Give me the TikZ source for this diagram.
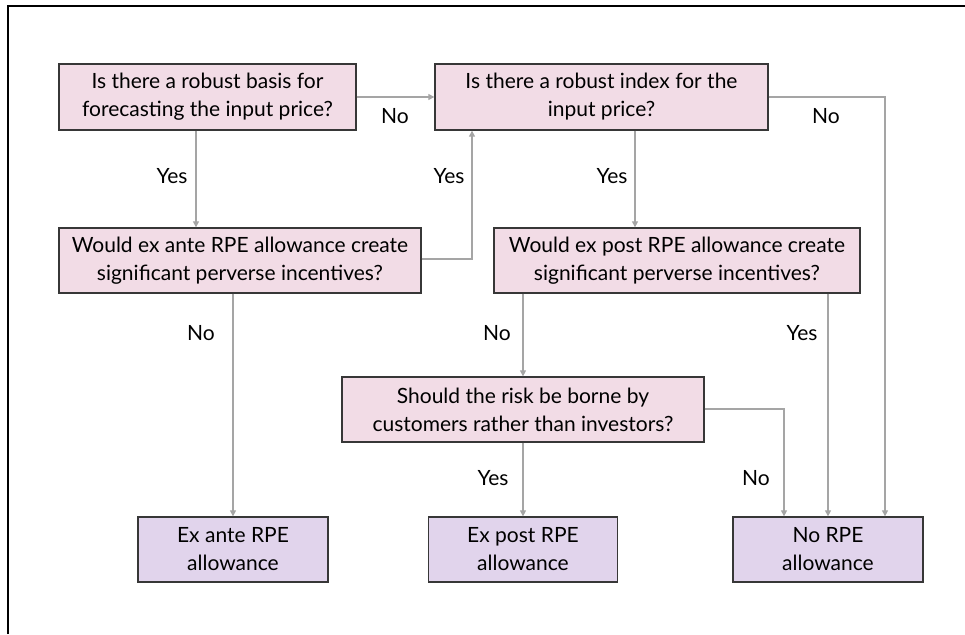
\documentclass[tikz,border=0pt]{standalone}
\usepackage{fontspec}
\setmainfont{Lato}
\usetikzlibrary{arrows.meta}
\definecolor{qpink}{RGB}{242,220,230}
\definecolor{apurple}{RGB}{225,212,236}
\definecolor{lgray}{RGB}{165,165,165}
\definecolor{bord}{RGB}{55,55,55}
\tikzset{
  qbox/.style={draw=bord, line width=1.3pt, fill=qpink, inner sep=0pt, align=center, font=\fontsize{21}{28}\selectfont},
  abox/.style={draw=bord, line width=1.3pt, fill=apurple, inner sep=0pt, align=center, font=\fontsize{21}{28}\selectfont},
  conn/.style={draw=lgray, line width=1.2pt, -{Triangle[length=6pt,width=6pt]}},
  lbl/.style={font=\fontsize{21}{24}\selectfont, inner sep=0pt}
}
\begin{document}
\begin{tikzpicture}[x=1pt,y=-1pt]
\useasboundingbox (0,0) rectangle (965,634);
\draw[line width=1.5pt] (8,634) -- (8,6) -- (965,6);
% question boxes
\node[qbox, minimum width=297pt, minimum height=66pt] (A) at (207.5,97) {Is there a robust basis for\\forecasting the input price?};
\node[qbox, minimum width=333pt, minimum height=66pt] (B) at (601.5,97) {Is there a robust index for the\\input price?};
\node[qbox, minimum width=362pt, minimum height=65pt] (C) at (240,260.5) {Would ex ante RPE allowance create\\significant perverse incentives?};
\node[qbox, minimum width=366pt, minimum height=65pt] (D) at (677,260.5) {Would ex post RPE allowance create\\significant perverse incentives?};
\node[qbox, minimum width=362pt, minimum height=65pt] (E) at (523,409.5) {Should the risk be borne by\\customers rather than investors?};
% answer boxes
\node[abox, minimum width=190pt, minimum height=65pt] (F) at (233,549.5) {Ex ante RPE\\allowance};
\node[abox, minimum width=189pt, minimum height=65pt] (G) at (523,549.5) {Ex post RPE\\allowance};
\node[abox, minimum width=190pt, minimum height=65pt] (H) at (828,549.5) {No RPE\\allowance};
% helper coordinates
\coordinate (cb) at (472,259);
\coordinate (bh) at (885,97);
\coordinate (eh) at (784,409);
% connectors
\draw[conn] (A.east) -- (B.west);
\draw[conn] (A.south -| 196,0) -- (C.north -| 196,0);
\draw[conn] (C.east |- cb) -- (cb) -- (B.south -| cb);
\draw[conn] (B.south -| 635,0) -- (D.north -| 635,0);
\draw[conn] (B.east) -- (bh) -- (H.north -| bh);
\draw[conn] (D.south -| E.north) -- (E.north);
\draw[conn] (D.south -| H.north) -- (H.north);
\draw[conn] (E.south) -- (G.north);
\draw[conn] (E.east |- eh) -- (eh) -- (H.north -| eh);
\draw[conn] (C.south -| F.north) -- (F.north);
% labels
\node[lbl] (l1) at (395,116) {No};
\node[lbl] (l2) at (172,176) {Yes};
\node[lbl] (l3) at (449,176) {Yes};
\node[lbl] (l4) at (612,176) {Yes};
\node[lbl] (l5) at (826,116) {No};
\node[lbl] (l6) at (497,333) {No};
\node[lbl] (l7) at (802,333) {Yes};
\node[lbl] (l8) at (493,478) {Yes};
\node[lbl] (l9) at (756,478) {No};
\node[lbl] (l10) at (201,333) {No};
\end{tikzpicture}
\end{document}
